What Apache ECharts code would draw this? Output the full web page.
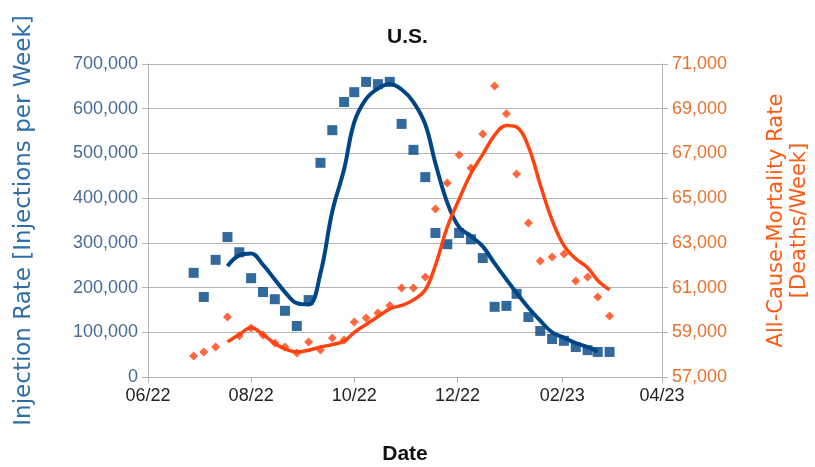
<!DOCTYPE html>
<html>

<head>
  <meta charset="UTF-8">
  <title>U.S.</title>
  <script src="https://cdn.jsdelivr.net/npm/echarts@6/dist/echarts.min.js"></script>
</head>

<body style="margin: 0;overflow: hidden;background: #fff;">
  <div id="chart" style="width: 815px;height: 467px;"></div>
  <script type="text/javascript">
    // weekly dates
    var dates = [
      '2022-06-28', '2022-07-04', '2022-07-11', '2022-07-18', '2022-07-25', '2022-08-01', '2022-08-08',
      '2022-08-15', '2022-08-21', '2022-08-28', '2022-09-04', '2022-09-11', '2022-09-18', '2022-09-25',
      '2022-10-01', '2022-10-08', '2022-10-15', '2022-10-22', '2022-10-29', '2022-11-05', '2022-11-12',
      '2022-11-18', '2022-11-25', '2022-12-02', '2022-12-09', '2022-12-16', '2022-12-23', '2022-12-30',
      '2023-01-05', '2023-01-12', '2023-01-19', '2023-01-26', '2023-02-02', '2023-02-09', '2023-02-16',
      '2023-02-22', '2023-03-01'
    ];
    var injections = [
      233000, 179000, 262000, 313000, 279000, 221000, 190000, 174000, 148000, 114000, 172000, 479000,
      552000, 615000, 637000, 660000, 655000, 660000, 566000, 508000, 447000, 322000, 297000, 322000,
      308000, 266000, 157000, 159000, 186000, 134000, 103000, 85000, 81000, 67000, 60000, 56000, 56000
    ];
    var mortality = [
      57940, 58120, 58340, 59680, 58850, 59190, 58880, 58520, 58340, 58070, 58560, 58210, 58740, 58650,
      59460, 59640, 59860, 60200, 60980, 60980, 61470, 64510, 65680, 66930, 66350, 67870, 70020, 68770,
      66080, 63890, 62190, 62370, 62500, 61290, 61470, 60580, 59730
    ];
    // moving trend lines, starting at the 4th week
    var injectionTrend = [
      248000, 272000, 276000, 251000, 218000, 190000, 165000, 162000, 232000, 370000, 465000, 570000,
      622000, 645000, 655000, 643000, 615000, 565000, 478000, 390000, 335000, 315000, 292000, 254000,
      218000, 188000, 155000, 126000, 100000, 88000, 76000, 67000, 57000
    ];
    var mortalityTrend = [
      58570, 58900, 59200, 58900, 58500, 58250, 58120, 58200, 58340, 58450, 58600, 59000, 59350, 59700,
      60050, 60200, 60450, 60900, 62000, 63700, 64950, 66100, 66960, 67820, 68250, 68180, 67300, 65600,
      64020, 62880, 62290, 61890, 61320, 60900
    ];
    var xTicks = ['2022-06-01', '2022-08-01', '2022-10-01', '2022-12-01', '2023-02-01', '2023-04-01'];
    var rightTicks = [57000, 59000, 61000, 63000, 65000, 67000, 69000, 71000];

    var blue = '#004586', orange = '#ff420e';
    var font = "'Liberation Sans', Arial, sans-serif";

    function toTime(s) {
      return +echarts.time.parse(s);
    }

    function pair(xs, ys) {
      return ys.map(function (v, i) {
        return [toTime(xs[i]), v];
      });
    }

    function thousands(v) {
      return String(v).replace(/\B(?=(\d{3})+(?!\d))/g, ',');
    }

    var xTickValues = xTicks.map(toTime);

    var chart = echarts.init(document.getElementById('chart'));
    var option = {
      animation: false,
      title: {
        text: 'U.S.',
        left: 'center',
        top: 22,
        textStyle: { fontFamily: font, fontSize: 21, fontWeight: 'bold', color: '#111' }
      },
      grid: { left: 148, right: 153, top: 64, bottom: 90, outerBoundsMode: 'none' },
      xAxis: {
        type: 'value',
        min: xTickValues[0],
        max: xTickValues[xTickValues.length - 1],
        name: 'Date',
        nameLocation: 'middle',
        nameGap: 67,
        nameTextStyle: { fontFamily: font, fontSize: 21, fontWeight: 'bold', color: '#111' },
        axisLine: { lineStyle: { color: '#b3b3b3', width: 1 } },
        axisTick: { customValues: xTickValues, length: 6, lineStyle: { color: '#b3b3b3' } },
        axisLabel: {
          customValues: xTickValues,
          margin: 10,
          fontFamily: font,
          fontSize: 18,
          color: '#222',
          formatter: function (v) {
            var d = new Date(v);
            var m = d.getMonth() + 1;
            return (m < 10 ? '0' + m : m) + '/' + String(d.getFullYear()).slice(2);
          }
        },
        splitLine: { show: false }
      },
      yAxis: [{
        type: 'value',
        min: 0,
        max: 700000,
        interval: 100000,
        name: 'Injection Rate [Injections per Week]',
        nameLocation: 'middle',
        nameGap: 112,
        nameTextStyle: { fontFamily: "'DejaVu Sans', sans-serif", fontSize: 23, color: '#2f6fa8' },
        axisLine: { show: true, lineStyle: { color: '#b3b3b3' } },
        axisTick: { show: true, length: 6, lineStyle: { color: '#b3b3b3' } },
        axisLabel: { fontFamily: font, fontSize: 18, color: '#4a6c92', margin: 10, formatter: thousands },
        splitLine: { lineStyle: { color: '#b3b3b3', width: 1 } }
      }, {
        type: 'value',
        min: 57000,
        max: 71000,
        name: 'All-Cause-Mortality Rate\n[Deaths/Week]',
        nameLocation: 'middle',
        nameGap: 103,
        nameRotate: 90,
        nameTextStyle: { fontFamily: "'DejaVu Sans', sans-serif", fontSize: 21, color: '#ff5a14', lineHeight: 23 },
        axisLine: { show: true, lineStyle: { color: '#b3b3b3' } },
        axisTick: { show: true, customValues: rightTicks, length: 6, lineStyle: { color: '#b3b3b3' } },
        axisLabel: { customValues: rightTicks, fontFamily: font, fontSize: 18, color: '#e8712c', margin: 10, formatter: thousands },
        splitLine: { show: false }
      }],
      series: [{
        name: 'Injections',
        type: 'scatter',
        yAxisIndex: 0,
        symbol: 'rect',
        symbolSize: 10,
        itemStyle: { color: blue },
        data: pair(dates, injections)
      }, {
        name: 'Mortality',
        type: 'scatter',
        yAxisIndex: 1,
        symbol: 'diamond',
        symbolSize: 9,
        itemStyle: { color: orange },
        data: pair(dates, mortality)
      }, {
        name: 'Injections trend',
        type: 'line',
        yAxisIndex: 0,
        smooth: 0.4,
        showSymbol: false,
        lineStyle: { color: blue, width: 4 },
        data: pair(dates.slice(3), injectionTrend)
      }, {
        name: 'Mortality trend',
        type: 'line',
        yAxisIndex: 1,
        smooth: 0.4,
        showSymbol: false,
        lineStyle: { color: orange, width: 3.5 },
        data: pair(dates.slice(3), mortalityTrend)
      }]
    };
    chart.setOption(option);
  </script>
</body>

</html>
